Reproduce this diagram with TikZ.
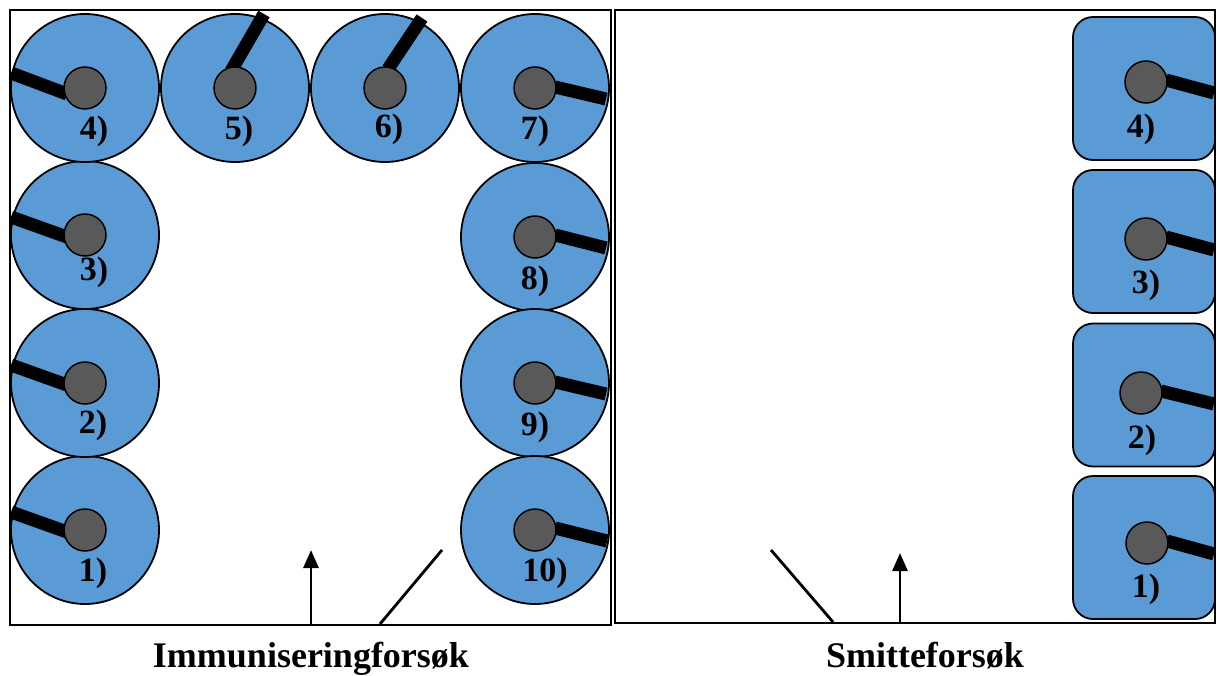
\documentclass[tikz,border=0pt]{standalone}
\usepackage{fontspec}
\setmainfont{Liberation Serif}
\usetikzlibrary{arrows.meta}
\definecolor{fanblue}{HTML}{5B9BD5}
\definecolor{hubgray}{HTML}{595959}
\begin{document}
\begin{tikzpicture}[x=1pt,y=-1pt,
  tank/.style={circle,draw=black,line width=1.8pt,fill=fanblue,minimum size=148pt,inner sep=0pt},
  sqtank/.style={rectangle,rounded corners=20pt,draw=black,line width=1.8pt,fill=fanblue,minimum width=142pt,minimum height=143pt,inner sep=0pt},
  hub/.style={circle,draw=black,line width=1.5pt,fill=hubgray,minimum size=42pt,inner sep=0pt},
  blade/.style={line width=13pt,draw=black},
  lab/.style={font=\fontsize{34}{34}\selectfont\bfseries,inner sep=0pt},
  title/.style={font=\fontsize{36}{36}\selectfont\bfseries,inner sep=0pt,anchor=base},
  frame/.style={draw=black,line width=2pt},
  arr/.style={line width=2.8pt,-{Triangle[width=15pt,length=18pt]}},
  diag/.style={line width=2.8pt}]
\useasboundingbox (0,0) rectangle (1218,675);
\fill[white] (0,0) rectangle (1218,675);

% ---- circular tanks (left panel)
\foreach \n/\x/\y/\sx/\sy/\ex/\ey/\lx/\ly in {
  1/85/530/-18/2/-74/-18/93/573,
  2/85/383/-18/2/-74/-18/93/425,
  3/85/235/-18/2/-74/-18/94/272,
  4/85/88/-18/6/-74/-15/94/131,
  5/235/88/-4/-17/29/-74/239/131,
  6/385/88/3/-19/37/-70/389/129,
  7/535/88/20/-1/71/11/535/131,
  8/535/237/20/-2/71/11/535/281,
  9/535/383/20/-1/71/11/535/427,
  10/535/530/20/-2/72/11/545/573}{
  \node[tank] (c\n) at (\x,\y) {};
  \coordinate (bs\n) at (\x+\sx,\y+\sy);
  \coordinate (be\n) at (\x+\ex,\y+\ey);
  \draw[blade] (bs\n) -- (be\n);
  \node[hub] (h\n) at (\x,\y) {};
  \node[lab] (l\n) at (\lx,\ly) {\n)};
}

% ---- square tanks (right panel)
\foreach \n/\y/\hx/\hy/\lx/\ly in {
  1/547.5/1147/543/1146/589,
  2/395/1141/393/1142/440,
  3/241.5/1146/239/1146/285,
  4/88.5/1146/82/1141/129}{
  \node[sqtank] (s\n) at (1144,\y) {};
  \coordinate (ss\n) at (\hx+20,\hy-2);
  \coordinate (se\n) at (1214,\hy+11);
  \draw[blade] (ss\n) -- (se\n);
  \node[hub] (sh\n) at (\hx,\hy) {};
  \node[lab] (sl\n) at (\lx,\ly) {\n)};
}

% ---- frames
\draw[frame] (10,10) rectangle (611,625);
\draw[frame] (615,10) rectangle (1215,623);

% ---- arrows and lines
\coordinate (a1s) at (311,624);
\coordinate (a1e) at (311,550);
\draw[arr] (a1s) -- (a1e);
\coordinate (d1s) at (380,624);
\coordinate (d1e) at (442,550);
\draw[diag] (d1s) -- (d1e);
\coordinate (d2s) at (833,622);
\coordinate (d2e) at (771,550);
\draw[diag] (d2s) -- (d2e);
\coordinate (a2s) at (900,622);
\coordinate (a2e) at (900,553);
\draw[arr] (a2s) -- (a2e);

% ---- titles
\node[title] (t1) at (311,667) {Immuniseringforsøk};
\node[title] (t2) at (925,667) {Smitteforsøk};
\end{tikzpicture}
\end{document}
